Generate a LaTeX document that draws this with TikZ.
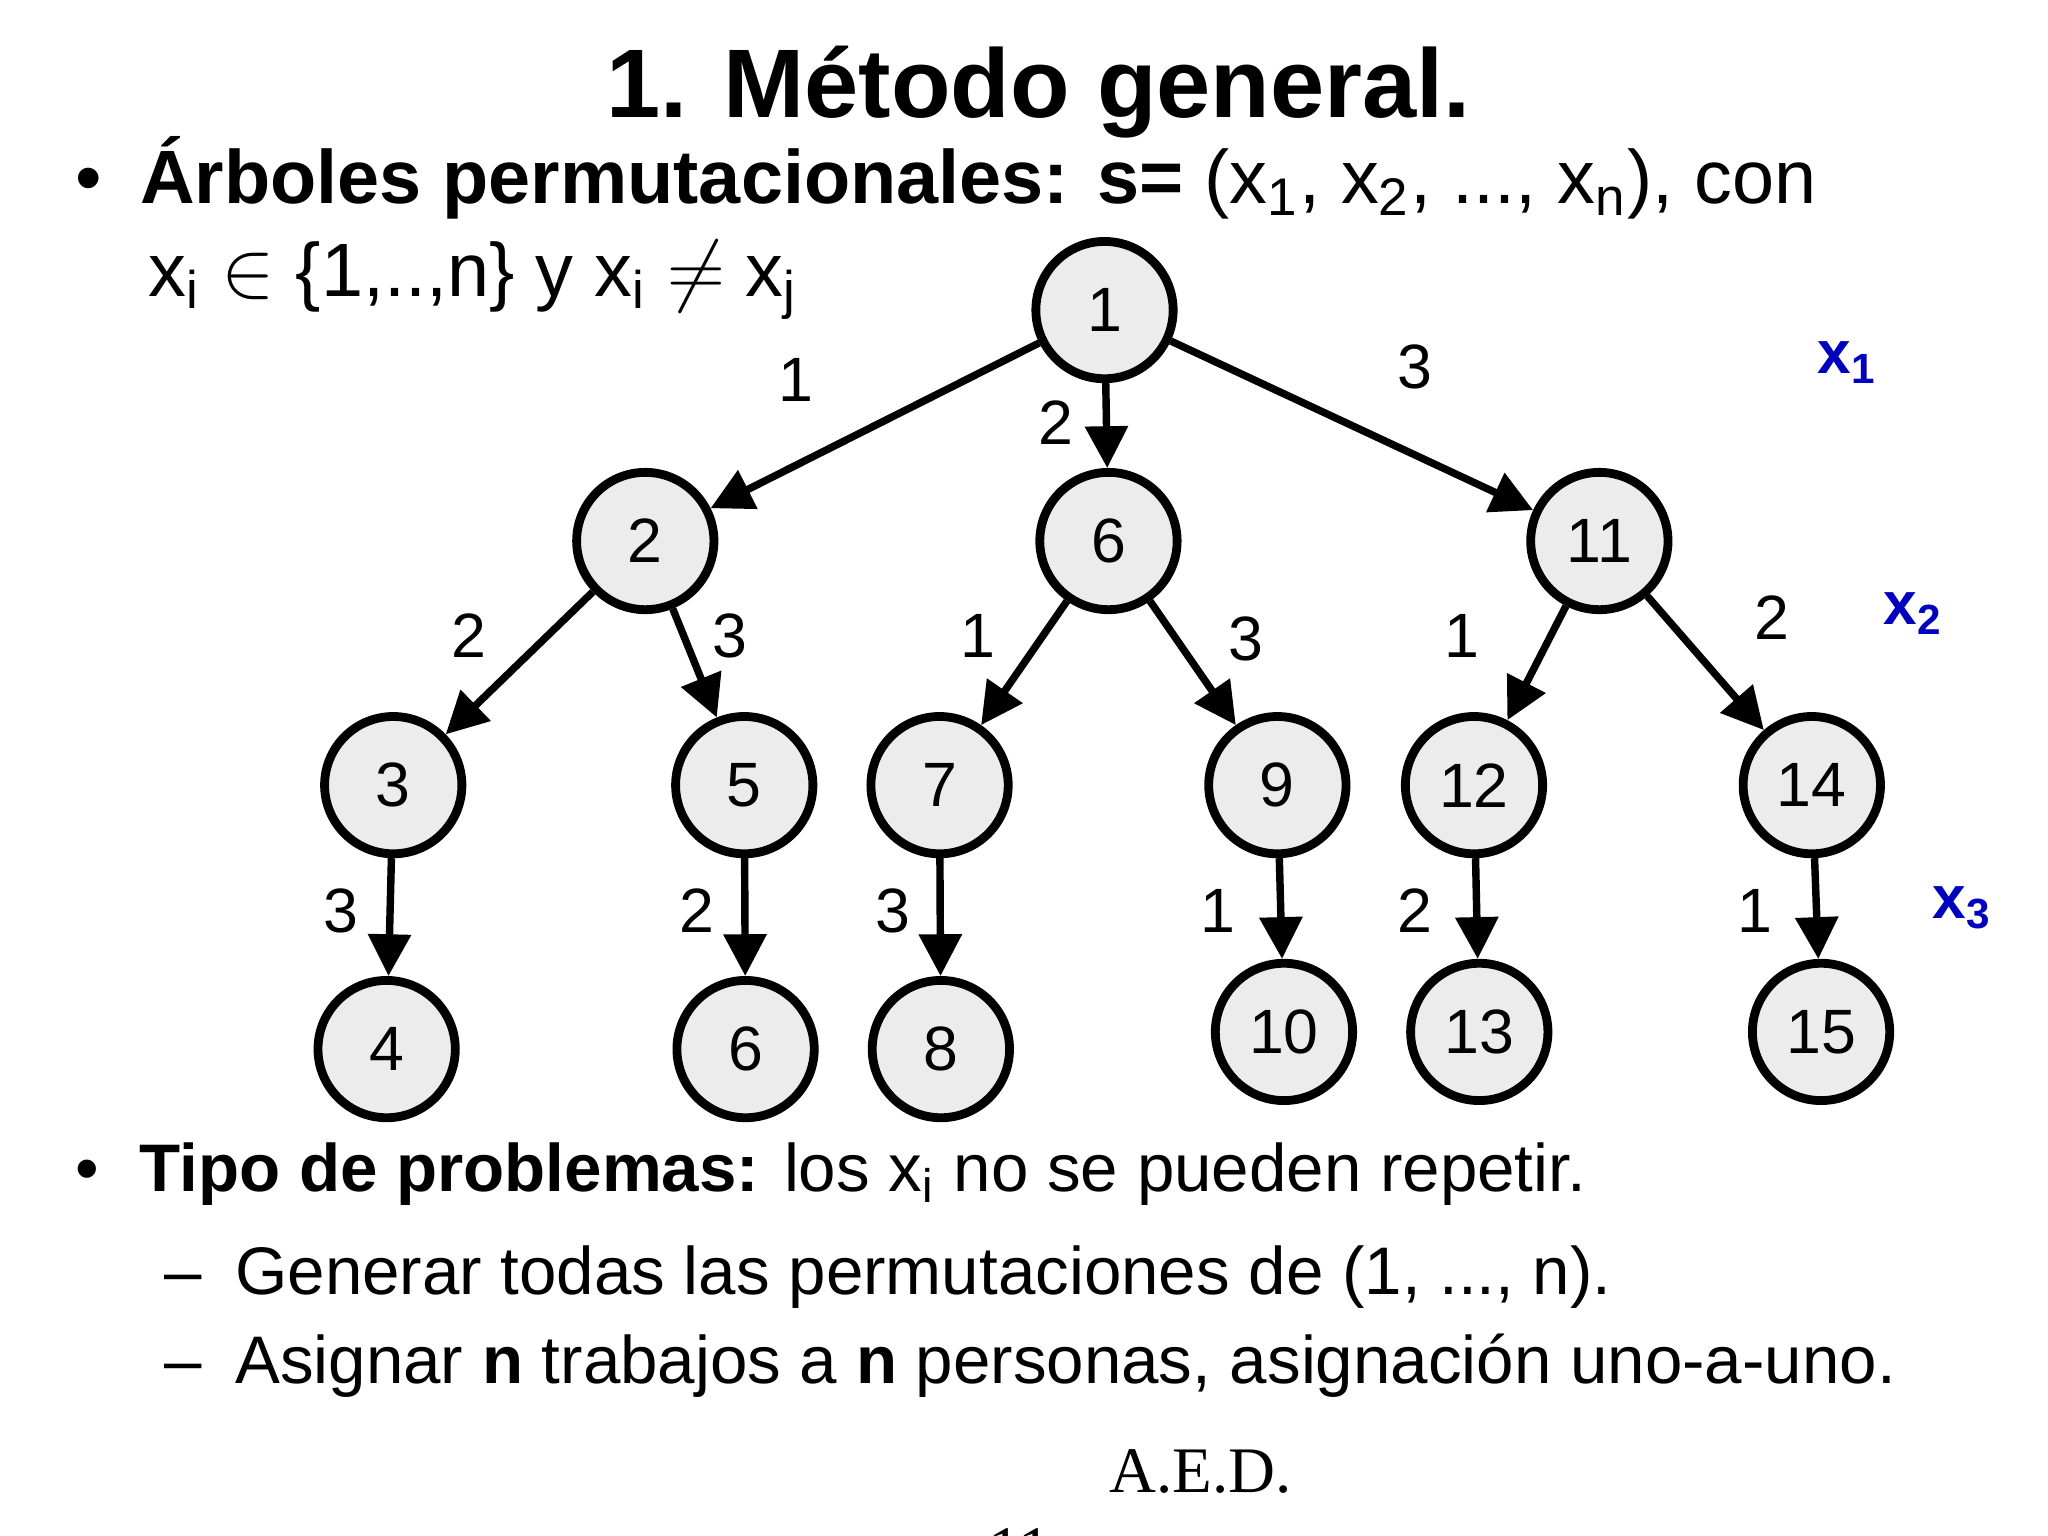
\documentclass[tikz,border=0pt]{standalone}
\usepackage{fontspec}
\setmainfont{Liberation Sans}
\newfontfamily\serifont{Liberation Serif}
\usetikzlibrary{arrows.meta}
\newcommand{\sbs}[1]{\textsubscript{#1}}
\begin{document}
\begin{tikzpicture}[x=0.01cm,y=-0.01cm,
  nd/.style={circle,draw,line width=1.9pt,fill=gray!15,minimum size=1.04cm,inner sep=0pt,font=\fontsize{13.5}{13.5}\selectfont},
  ed/.style={line width=1.6pt,-{Triangle[length=9pt,width=9pt]}},
  lb/.style={font=\fontsize{13.5}{13.5}\selectfont},
  xl/.style={font=\bfseries\fontsize{13}{13}\selectfont,text=blue!75!black}]
\clip (0,0) rectangle (1552,1164);
\fill[white] (0,0) rectangle (1552,1164);
\node[font=\bfseries\fontsize{21}{21}\selectfont] (title) at (787,70) {1. Método general.};
\node[anchor=west,font=\fontsize{16.3}{16.3}\selectfont] (b1) at (45,135) {\textbullet\hspace{0.5em}\textbf{Árboles permutacionales: s=} (x\sbs{1}, x\sbs{2}, ..., x\sbs{n}), con};
\node[anchor=west,font=\fontsize{16.3}{16.3}\selectfont] (b1b) at (100,212) {x\sbs{i} $\in$ \{1,..,n\} y x\sbs{i} $\neq$ x\sbs{j}};
\node[nd] (n1) at (837,235) {1};
\node[nd] (n2) at (489,410) {2};
\node[nd] (n6) at (840,410) {6};
\node[nd] (n11) at (1212,410) {11};
\node[nd] (n3) at (298,595) {3};
\node[nd] (n5) at (564,595) {5};
\node[nd] (n7) at (712,595) {7};
\node[nd] (n9) at (968,595) {9};
\node[nd] (n12) at (1117,595) {12};
\node[nd] (n14) at (1373,595) {14};
\node[nd] (n4) at (293,795) {4};
\node[nd] (n6b) at (565,795) {6};
\node[nd] (n8) at (713,795) {8};
\node[nd] (n10) at (973,782) {10};
\node[nd] (n13) at (1121,782) {13};
\node[nd] (n15) at (1380,782) {15};
\draw[ed] (n1) -- (n2);
\draw[ed] (n1) -- (n6);
\draw[ed] (n1) -- (n11);
\draw[ed] (n2) -- (n3);
\draw[ed] (n2) -- (n5);
\draw[ed] (n6) -- (n7);
\draw[ed] (n6) -- (n9);
\draw[ed] (n11) -- (n12);
\draw[ed] (n11) -- (n14);
\draw[ed] (n3) -- (n4);
\draw[ed] (n5) -- (n6b);
\draw[ed] (n7) -- (n8);
\draw[ed] (n9) -- (n10);
\draw[ed] (n12) -- (n13);
\draw[ed] (n14) -- (n15);
\node[lb] (l1) at (603,288) {1};
\node[lb] (l2) at (800,320) {2};
\node[lb] (l3) at (1072,278) {3};
\node[lb] (l4) at (355,482) {2};
\node[lb] (l5) at (553,482) {3};
\node[lb] (l6) at (741,482) {1};
\node[lb] (l7) at (944,484) {3};
\node[lb] (l8) at (1108,482) {1};
\node[lb] (l9) at (1343,468) {2};
\node[lb] (l10) at (258,690) {3};
\node[lb] (l11) at (528,690) {2};
\node[lb] (l12) at (677,690) {3};
\node[lb] (l13) at (923,690) {1};
\node[lb] (l14) at (1072,690) {2};
\node[lb] (l15) at (1330,690) {1};
\node[xl] (x1) at (1400,275) {x\sbs{1}};
\node[xl] (x2) at (1450,465) {x\sbs{2}};
\node[xl] (x3) at (1487,688) {x\sbs{3}};
\node[anchor=west,font=\fontsize{14.5}{14.5}\selectfont] (b2) at (45,890) {\textbullet\hspace{0.6em}\textbf{Tipo de problemas:} los x\sbs{i} no se pueden repetir.};
\node[anchor=west,font=\fontsize{14.5}{14.5}\selectfont] (b3) at (112,968) {–\hspace{0.5em}Generar todas las permutaciones de (1, ..., n).};
\node[anchor=west,font=\fontsize{14.5}{14.5}\selectfont] (b4) at (112,1035) {–\hspace{0.5em}Asignar \textbf{n} trabajos a \textbf{n} personas, asignación uno-a-uno.};
\node[font=\serifont\fontsize{14}{14}\selectfont] (aed) at (910,1115) {A.E.D.};
\node[font=\serifont\fontsize{14}{14}\selectfont] (pg) at (773,1175) {11};
\end{tikzpicture}
\end{document}
